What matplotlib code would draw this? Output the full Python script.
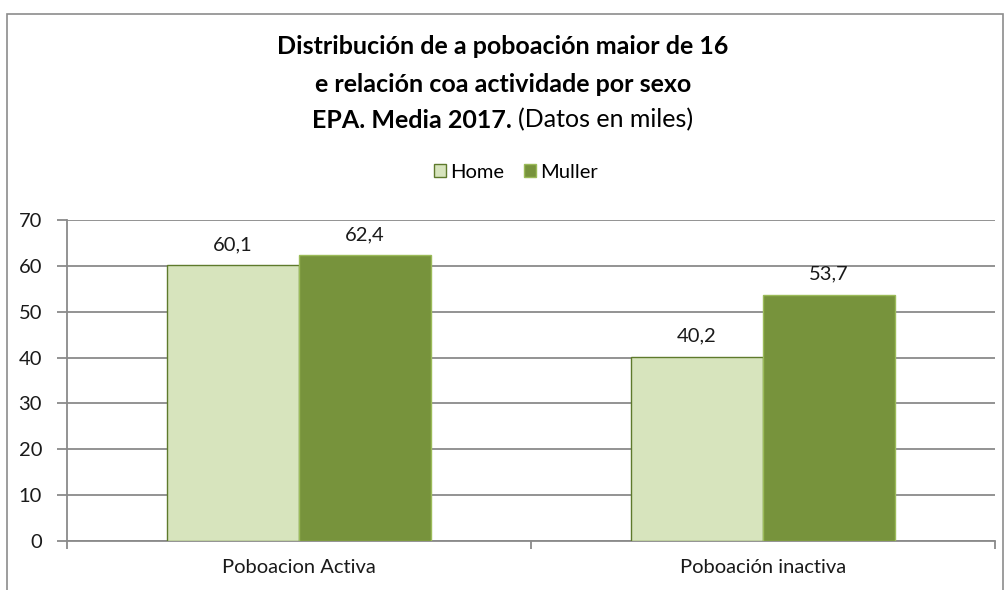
import matplotlib
matplotlib.use("Agg")
import matplotlib.pyplot as plt
import numpy as np
from matplotlib.patches import Rectangle

# data
categories = ["Poboacion Activa", "Poboación inactiva"]
series_names = ["Home", "Muller"]
home = [60.1, 40.2]
muller = [62.4, 53.7]
yticks = [0, 10, 20, 30, 40, 50, 60, 70]

plt.rcParams['font.family'] = ['Lato', 'DejaVu Sans']

W, H = 1006, 590
fig = plt.figure(figsize=(W / 100, H / 100), dpi=100)

# outer chart frame
fig.patches.append(Rectangle((7 / W, -0.1), (1003 - 7) / W, (H - 14) / H + 0.1,
                             transform=fig.transFigure, fill=False,
                             edgecolor="#8c8c8c", linewidth=1.2))

ax = fig.add_axes([67 / W, (H - 541) / H, 928 / W, (541 - 220) / H])

x = np.arange(len(categories))
bw = 0.285
grid_c = "#8a8a8a"
fs = 14.5

b1 = ax.bar(x - bw / 2, home, bw, color="#d7e4bd", edgecolor="#5e7a2c", linewidth=1.0,
            label=series_names[0], zorder=3)
b2 = ax.bar(x + bw / 2, muller, bw, color="#77933c", edgecolor="#9bbb59", linewidth=1.0,
            label=series_names[1], zorder=3)

for bars in (b1, b2):
    for r in bars:
        v = r.get_height()
        ax.text(r.get_x() + r.get_width() / 2, v + 2.6, ("%.1f" % v).replace(".", ","),
                ha="center", va="bottom", fontsize=fs, color="#1a1a1a")

ax.set_xlim(-0.5, len(categories) - 0.5)
ax.set_ylim(0, 70)
ax.set_yticks(yticks)
ax.set_yticklabels([str(t) for t in yticks], fontsize=fs, color="#1a1a1a")
ax.yaxis.grid(True, color=grid_c, linewidth=1.3, zorder=0)
ax.set_axisbelow(True)

ax.set_xticks(x)
ax.set_xticklabels(categories, fontsize=fs, color="#1a1a1a")
ax.tick_params(axis="x", length=0, pad=13)
ax.set_xticks([-0.5, 0.5, 1.5], minor=True)
ax.tick_params(axis="x", which="minor", length=6, color=grid_c, width=1.3, direction="out")
ax.tick_params(axis="y", length=7, color=grid_c, width=1.3, pad=11)

for s in ["top", "right"]:
    ax.spines[s].set_visible(False)
for s in ["left", "bottom"]:
    ax.spines[s].set_color(grid_c)
    ax.spines[s].set_linewidth(1.3)

# title
tfs = 18
fig.text(0.5, 1 - 47 / H, "Distribución de a poboación maior de 16", ha="center", va="center",
         fontsize=tfs, fontweight="bold")
fig.text(0.5, 1 - 84 / H, "e relación coa actividade por sexo", ha="center", va="center",
         fontsize=tfs, fontweight="bold")
t1 = fig.text(0.5, 1 - 120 / H, "EPA. Media 2017. ", ha="right", va="center",
              fontsize=tfs, fontweight="bold")
t2 = fig.text(0.5, 1 - 120 / H, "(Datos en miles)", ha="left", va="center", fontsize=tfs)
fig.canvas.draw()
w1 = t1.get_window_extent().width / W
w2 = t2.get_window_extent().width / W
shift = (w1 - w2) / 2
t1.set_x(0.5 + shift)
t2.set_x(0.5 + shift)

fig.legend(handles=[b1, b2], labels=series_names, loc="center", bbox_to_anchor=(0.513, 1 - 172 / H),
           ncol=2, frameon=False, fontsize=fs, handlelength=0.6, handleheight=0.6,
           handletextpad=0.2, columnspacing=1.0)

fig.savefig("out.png", dpi=100)
